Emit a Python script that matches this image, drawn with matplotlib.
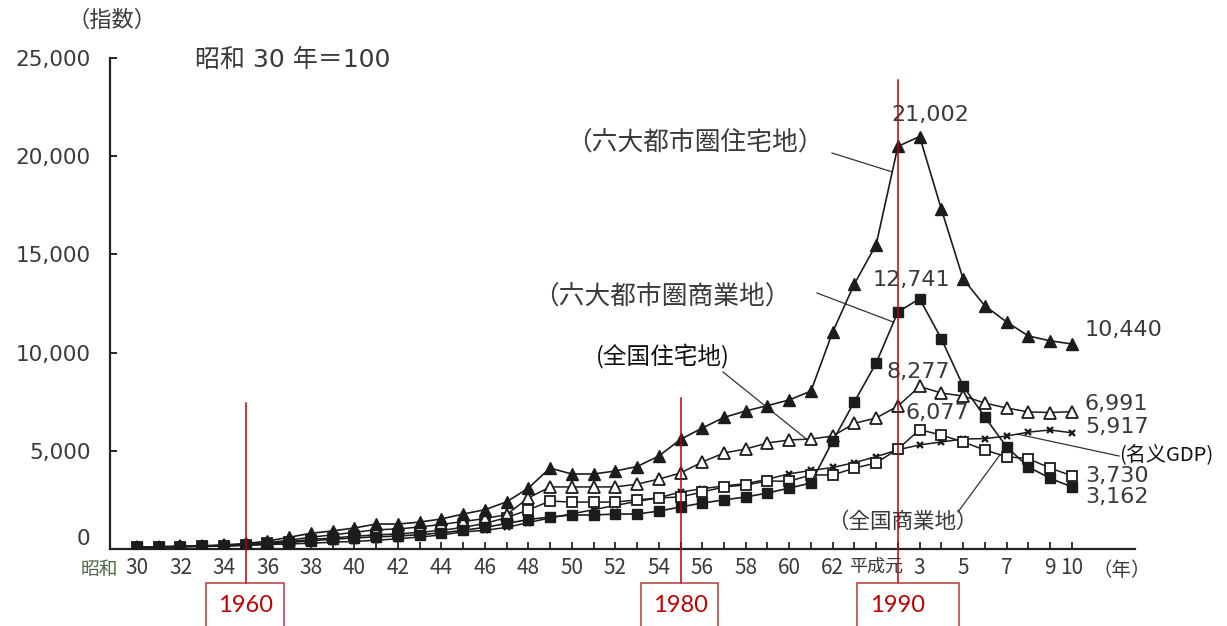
import matplotlib
matplotlib.use("Agg")
import matplotlib.pyplot as plt
import numpy as np
from matplotlib.patches import Rectangle
from matplotlib.ticker import FixedLocator

plt.rcParams['font.family'] = ['Noto Sans CJK JP', 'DejaVu Sans']
NUM_FONT = ['DejaVu Sans', 'Noto Sans CJK JP']

# ---- data: land price indices and nominal GDP, 1955 (Showa 30) = 100 ----
years = np.arange(1955, 1999)

big6_residential = [100, 115, 135, 165, 210, 280, 400, 600, 800, 920,
                    1070, 1270, 1270, 1370, 1530, 1780, 2000, 2400, 3100, 4120,
                    3820, 3820, 3970, 4200, 4730, 5580, 6160, 6700, 7030, 7300,
                    7590, 8040, 11050, 13500, 15500, 20500, 21002, 17300, 13750, 12380,
                    11560, 10850, 10600, 10440]

big6_commercial = [100, 110, 122, 138, 160, 200, 265, 330, 420, 500,
                   560, 620, 660, 730, 820, 950, 1100, 1300, 1500, 1630,
                   1730, 1730, 1780, 1780, 1930, 2140, 2340, 2500, 2650, 2850,
                   3100, 3360, 5500, 7500, 9470, 12070, 12741, 10700, 8300, 6720,
                   5200, 4180, 3600, 3162]

nat_residential = [100, 112, 128, 150, 180, 230, 320, 450, 600, 720,
                   850, 980, 1020, 1120, 1250, 1400, 1550, 1750, 2600, 3160,
                   3160, 3160, 3160, 3300, 3560, 3870, 4430, 4890, 5090, 5400,
                   5550, 5600, 5750, 6400, 6670, 7280, 8277, 7940, 7790, 7430,
                   7180, 6980, 6950, 6991]

nat_commercial = [100, 110, 124, 142, 170, 215, 290, 380, 480, 560,
                  650, 720, 770, 850, 950, 1100, 1300, 1600, 1990, 2440,
                  2390, 2390, 2390, 2500, 2600, 2650, 2900, 3160, 3260, 3460,
                  3450, 3770, 3770, 4120, 4380, 5090, 6077, 5800, 5450, 5040,
                  4700, 4600, 4120, 3730]

nominal_gdp = [100, 110, 124, 130, 148, 183, 225, 255, 295, 345,
               385, 445, 520, 610, 715, 870, 950, 1100, 1345, 1580,
               1790, 2000, 2220, 2420, 2610, 2900, 3070, 3210, 3330, 3550,
               3830, 4000, 4150, 4400, 4700, 5050, 5300, 5450, 5600, 5620,
               5750, 5950, 6060, 5917]

y_ticks = [0, 5000, 10000, 15000, 20000, 25000]
x_label_years = [1955, 1957, 1959, 1961, 1963, 1965, 1967, 1969, 1971, 1973,
                 1975, 1977, 1979, 1981, 1983, 1985, 1987,
                 1989, 1991, 1993, 1995, 1997, 1998]
marker_years = [1960, 1980, 1990]


def era_label(y):
    if y <= 1988:
        return str(y - 1925)
    if y == 1989:
        return '平成元'
    return str(y - 1988)


# ---- figure layout (pixel helpers) ----
W, H = 1227, 626
X0, X1 = 110, 1135        # axis extent in pixels
Y0, Y1 = 549, 58          # y=0 and y=25000 in pixels


def fx(px):
    return px / W


def fy(py):
    return 1 - py / H


def yfrac(py):
    # pixel row -> axes fraction
    return (Y0 - py) / (Y0 - Y1)


def xyear(px):
    # pixel column -> year position
    return 1955 + (px - 137) / 21.74


def yval(py):
    return (Y0 - py) * 25000 / (Y0 - Y1)


fig = plt.figure(figsize=(W / 100, H / 100), dpi=100)
ax = fig.add_axes([fx(X0), fy(Y0), (X1 - X0) / W, (Y0 - Y1) / H])
ax.set_xlim(xyear(X0), xyear(X1))
ax.set_ylim(0, 25000)

ink = '#1c1c1c'
gray = '#3a3a3a'

ax.plot(years, nominal_gdp, color=ink, lw=1.1, marker='x', ms=4.5, mew=1.7, zorder=3)
ax.plot(years, nat_commercial, color=ink, lw=1.1, marker='s', ms=7, mfc='white',
        mec=ink, mew=1.3, zorder=4)
ax.plot(years, nat_residential, color=ink, lw=1.1, marker='^', ms=8.5, mfc='white',
        mec=ink, mew=1.3, zorder=4)
ax.plot(years, big6_commercial, color=ink, lw=1.2, marker='s', ms=6.5, mfc=ink,
        mec=ink, zorder=5)
ax.plot(years, big6_residential, color=ink, lw=1.2, marker='^', ms=8.5, mfc=ink,
        mec=ink, zorder=5)

# ---- axes styling ----
for side in ('top', 'right'):
    ax.spines[side].set_visible(False)
for side in ('left', 'bottom'):
    ax.spines[side].set_linewidth(1.6)
    ax.spines[side].set_color('#222222')

ax.set_yticks(y_ticks)
ax.set_yticklabels([f'{v:,}' for v in y_ticks])
ax.tick_params(axis='y', direction='in', length=5, width=1.2, pad=14,
               labelsize=15.5, labelcolor=gray)
for lbl in ax.get_yticklabels():
    lbl.set_family(NUM_FONT)
    if lbl.get_text() == '0':
        lbl.set_va('bottom')

ax.set_xticks(x_label_years)
ax.set_xticklabels([era_label(y) for y in x_label_years])
ax.xaxis.set_minor_locator(FixedLocator(years))
ax.tick_params(axis='x', which='both', direction='in', length=5, width=1.1,
               pad=6, labelsize=15, labelcolor=gray)
for lbl in ax.get_xticklabels():
    if lbl.get_text() == '平成元':
        lbl.set_fontsize(13)

xt = ax.get_xaxis_transform()
ax.text(xyear(118), yfrac(570), '昭和', transform=xt, ha='right', va='center',
        fontsize=13.5, color='#4a6a40')
ax.text(xyear(1092), yfrac(570), '（年）', transform=xt, ha='left', va='center',
        fontsize=14, color=gray)

fig.text(fx(112), fy(20), '（指数）', ha='center', va='center', fontsize=16, color=gray)
fig.text(fx(195), fy(60), '昭和 30 年＝100', ha='left', va='center', fontsize=18,
         color=gray, family=NUM_FONT)

# ---- value labels ----
val_style = dict(textcoords='offset pixels', fontsize=16, color=gray, va='center',
                 family=NUM_FONT)
ax.annotate(f'{big6_residential[-8]:,}', xy=(1991, big6_residential[-8]), xytext=(11, 22),
            ha='center', **val_style)
ax.annotate(f'{big6_commercial[-8]:,}', xy=(1991, big6_commercial[-8]), xytext=(-8, 19),
            ha='center', **val_style)
ax.annotate(f'{nat_residential[-8]:,}', xy=(1991, nat_residential[-8]), xytext=(-1, 14),
            ha='center', **val_style)
ax.annotate(f'{nat_commercial[-8]:,}', xy=(1991, nat_commercial[-8]), xytext=(18, 17),
            ha='center', **val_style)
for series, dy in ((big6_residential, 14), (nat_residential, 8), (nominal_gdp, 6),
                   (nat_commercial, 0), (big6_commercial, -10)):
    ax.annotate(f'{series[-1]:,}', xy=(1998, series[-1]), xytext=(13, dy),
                ha='left', **val_style)

# ---- series names with leader lines ----
def leader(px, py, t, series):
    ax.plot([xyear(px), t], [yval(py), np.interp(t, years, series)],
            color='#333333', lw=0.9, zorder=2)


ax.text(xyear(695), yval(143), '（六大都市圏住宅地）', ha='center', va='center',
        fontsize=18.5, color=gray)
leader(832, 153, 1989.74, big6_residential)

ax.text(xyear(662), yval(298), '（六大都市圏商業地）', ha='center', va='center',
        fontsize=18.5, color=gray)
leader(817, 293, 1989.8, big6_commercial)

ax.text(xyear(663), yval(357), '(全国住宅地)', ha='center', va='center',
        fontsize=17, color='#111111', family=['Noto Sans CJK SC', 'DejaVu Sans'])
leader(723, 372, 1985.8, nat_residential)

ax.text(xyear(1119), yval(455), '(名义GDP)', ha='left', va='center',
        fontsize=14.5, color='#111111', family=['Noto Sans CJK SC', 'DejaVu Sans'])
leader(1119, 456, 1995.5, nominal_gdp)

ax.text(xyear(902), yval(522), '（全国商業地）', ha='center', va='center',
        fontsize=15.5, color=gray)
leader(958, 512, 1994.7, nat_commercial)

# ---- reference years ----
red = '#c00000'
line_tops = {1960: 403, 1980: 398, 1990: 80}
box_top = yfrac(583)
box_bottom = yfrac(640)
for yr in marker_years:
    ax.plot([yr, yr], [yfrac(line_tops[yr]), box_top], transform=xt, color=red,
            lw=1.1, clip_on=False, zorder=6)
    left, right = (41, 61) if yr == 1990 else (40, 38)
    ax.add_patch(Rectangle((yr - left / 21.74, box_bottom), (left + right) / 21.74,
                           box_top - box_bottom, transform=xt, fill=False,
                           edgecolor='#b23a3a', lw=1.1, clip_on=False, zorder=6))
    ax.text(yr, yfrac(605), str(yr), transform=xt, ha='center', va='center',
            fontsize=17, color=red, family=['Lato', 'DejaVu Sans'])

fig.savefig('out.png', dpi=100)
